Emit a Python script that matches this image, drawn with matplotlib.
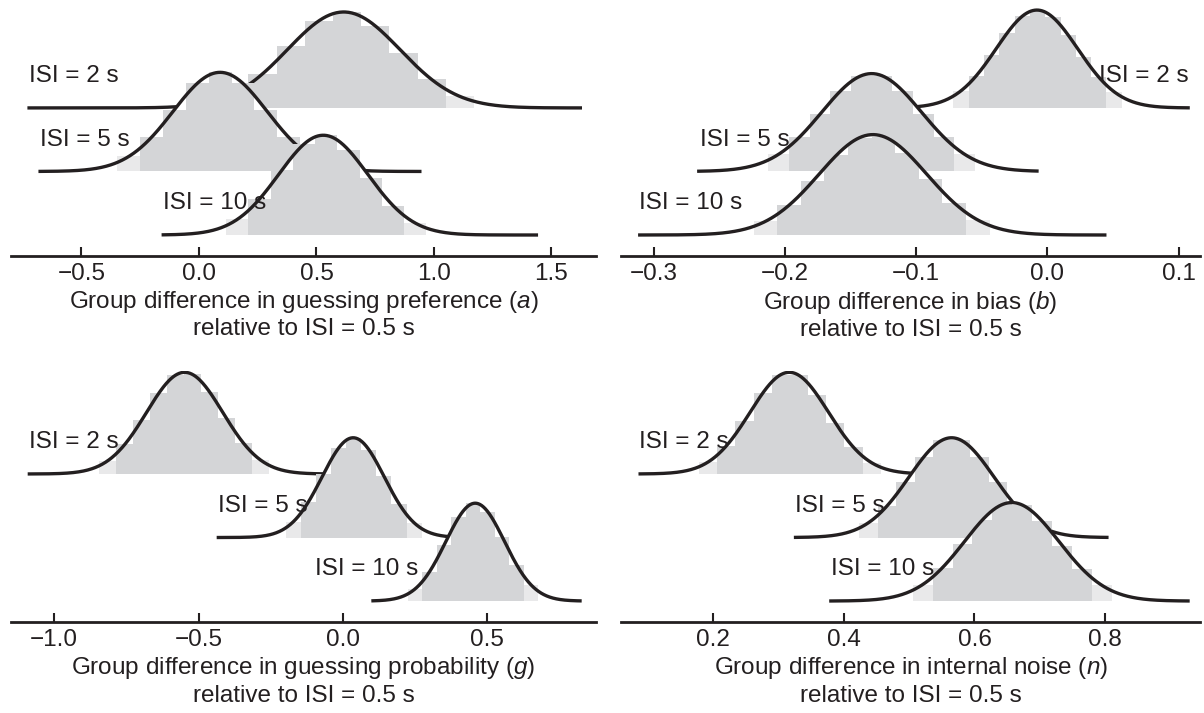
import numpy as np
import matplotlib
matplotlib.use("Agg")
import matplotlib.pyplot as plt

plt.rcParams['font.family'] = ['Liberation Sans', 'DejaVu Sans']
plt.rcParams['mathtext.fontset'] = 'custom'
plt.rcParams['mathtext.rm'] = 'Liberation Sans'
plt.rcParams['mathtext.it'] = 'Liberation Sans:italic'

ink = '#231f20'
hdi_col = '#d4d5d7'
tail_col = '#e9e9ea'

# one entry per panel (a, b, g, n); inner lists are ISI = 2 s, 5 s, 10 s
xlabels = [
    "Group difference in guessing preference ($\\mathit{a}$)\nrelative to ISI = 0.5 s",
    "Group difference in bias ($\\mathit{b}$)\nrelative to ISI = 0.5 s",
    "Group difference in guessing probability ($\\mathit{g}$)\nrelative to ISI = 0.5 s",
    "Group difference in internal noise ($\\mathit{n}$)\nrelative to ISI = 0.5 s",
]
isi_labels = ["ISI = 2 s", "ISI = 5 s", "ISI = 10 s"]

means = [[0.616, 0.09, 0.529], [-0.008, -0.134, -0.133],
         [-0.548, 0.036, 0.459], [0.317, 0.565, 0.657]]
sds = [[0.24, 0.2, 0.19], [0.031, 0.038, 0.041],
       [0.132, 0.108, 0.102], [0.06, 0.065, 0.072]]
peaks = [[1.51, 1.56, 1.57], [1.54, 1.54, 1.58],
         [1.6, 1.57, 1.54], [1.6, 1.57, 1.55]]
x_from = [[-0.73, -0.683, -0.159], [-0.12, -0.267, -0.312],
          [-1.092, -0.437, 0.099], [0.0865, 0.324, 0.378]]
x_to = [[1.63, 0.947, 1.443], [0.1085, -0.0067, 0.045],
        [0.1, 0.5, 0.828], [0.6, 0.805, 0.929]]
hdi_lo = [[0.21, -0.25, 0.21], [-0.060, -0.197, -0.206],
          [-0.785, -0.145, 0.276], [0.207, 0.452, 0.536]]
hdi_hi = [[1.05, 0.43, 0.873], [0.045, -0.071, -0.062],
          [-0.315, 0.221, 0.628], [0.429, 0.678, 0.78]]
n_bins = [[7, 7, 7], [9, 8, 8], [8, 7, 7], [8, 8, 8]]

label_x = [[-0.724, -0.678, -0.151], [0.1076, -0.265, -0.311],
           [-1.088, -0.431, -0.097], [0.088, 0.325, 0.381]]
label_ha = [["left"] * 3, ["right", "left", "left"], ["left"] * 3, ["left"] * 3]

xlims = [(-0.80, 1.69), (-0.325, 0.1164), (-1.15, 0.878), (0.0598, 0.945)]
xticks = [[-0.5, 0.0, 0.5, 1.0, 1.5], [-0.3, -0.2, -0.1, 0.0, 0.1],
          [-1.0, -0.5, 0.0, 0.5], [0.2, 0.4, 0.6, 0.8]]

# axes boxes in figure fractions
boxes = [[0.0091, 0.641, 0.486, 0.352], [0.5158, 0.641, 0.481, 0.352],
         [0.0091, 0.1276, 0.486, 0.352], [0.5158, 0.1276, 0.481, 0.352]]

fs = 17.5


def gauss(x, m, s, h):
    return h * np.exp(-0.5 * ((x - m) / s) ** 2)


fig = plt.figure(figsize=(12.04, 7.13), dpi=100)

for p in range(4):
    ax = fig.add_axes(boxes[p])
    for i in range(3):
        base = 2 - i
        z = 1 + i * 4
        m, s, h = means[p][i], sds[p][i], peaks[p][i]
        x = np.linspace(x_from[p][i], x_to[p][i], 500)
        y = gauss(x, m, s, h)
        ax.fill_between(x, base, base + y, color='white', lw=0, zorder=z)

        # histogram bars: shaded inside the interval, faint just outside
        w = (hdi_hi[p][i] - hdi_lo[p][i]) / n_bins[p][i]
        edges = np.linspace(hdi_lo[p][i] - w, hdi_hi[p][i] + w, n_bins[p][i] + 3)
        centers = (edges[:-1] + edges[1:]) / 2
        heights = gauss(centers, m, s, h)
        cols = [tail_col] + [hdi_col] * n_bins[p][i] + [tail_col]
        ax.bar(centers, heights, width=w, bottom=base, color=cols, lw=0,
               align='center', zorder=z + 1)

        ax.plot(x, base + y, color=ink, lw=2.4, zorder=z + 2,
                solid_capstyle='butt')
        ax.text(label_x[p][i], base + 0.5, isi_labels[i], ha=label_ha[p][i],
                va='center', fontsize=fs, color=ink, zorder=z + 3)

    ax.set_xlim(*xlims[p])
    ax.set_ylim(-0.33, 3.62)
    ax.set_xticks(xticks[p])
    ax.set_xticklabels([f"{v:.1f}".replace("-", "\u2212") for v in xticks[p]])
    ax.set_yticks([])
    for side in ["left", "right", "top"]:
        ax.spines[side].set_visible(False)
    ax.spines["bottom"].set_linewidth(2.0)
    ax.spines["bottom"].set_color(ink)
    ax.tick_params(axis='x', direction='in', length=6.5, width=1.5,
                   colors=ink, labelsize=fs, pad=5)
    ax.set_xlabel(xlabels[p], fontsize=fs, color=ink, labelpad=3)
    ax.patch.set_alpha(0)

fig.savefig("out.png", dpi=100)
